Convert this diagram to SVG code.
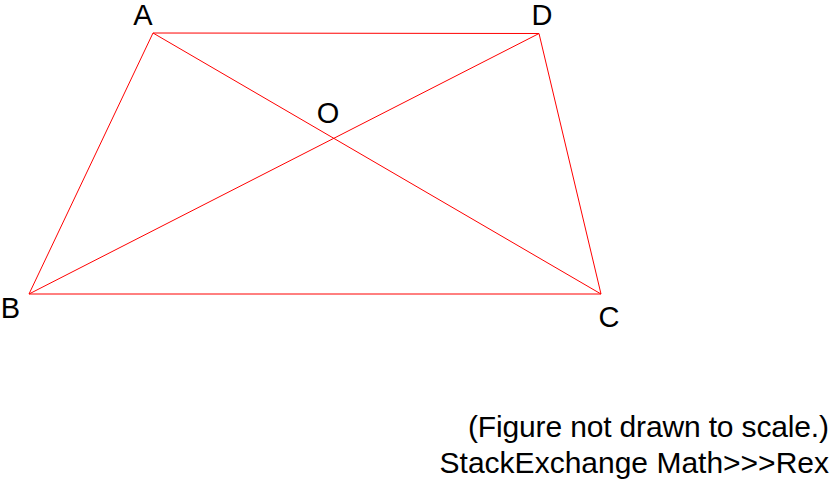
<svg xmlns="http://www.w3.org/2000/svg" width="831" height="481" viewBox="0 0 831 481">
<style>
.e{stroke:#ff0000;stroke-width:1;fill:none}
.l{font-family:"Liberation Sans",Arial,sans-serif;font-size:29px;fill:#000;text-anchor:middle}
.n{font-family:"Liberation Sans",Arial,sans-serif;font-size:30px;fill:#000;text-anchor:end}
</style>
<rect width="831" height="481" fill="#fff"/>
<g id="connectors">
<line class="e" x1="153" y1="33" x2="539" y2="33.5"/>
<line class="e" x1="153" y1="33" x2="29" y2="294"/>
<line class="e" x1="539" y1="33.5" x2="601" y2="294"/>
<line class="e" x1="29" y1="294" x2="601" y2="294"/>
<line class="e" x1="153" y1="33" x2="601" y2="294"/>
<line class="e" x1="29" y1="294" x2="539" y2="33.5"/>
</g>
<g id="A"><text class="l" x="143" y="25">A</text></g>
<g id="D"><text class="l" x="542" y="25">D</text></g>
<g id="B"><text class="l" x="10.5" y="318">B</text></g>
<g id="C"><text class="l" x="609" y="326.5">C</text></g>
<g id="O"><text class="l" x="328" y="122.5">O</text></g>
<g id="note">
<text class="n" x="829" y="437" textLength="361">(Figure not drawn to scale.)</text>
<text class="n" x="829" y="473">StackExchange Math&gt;&gt;&gt;Rex</text>
</g>
</svg>
